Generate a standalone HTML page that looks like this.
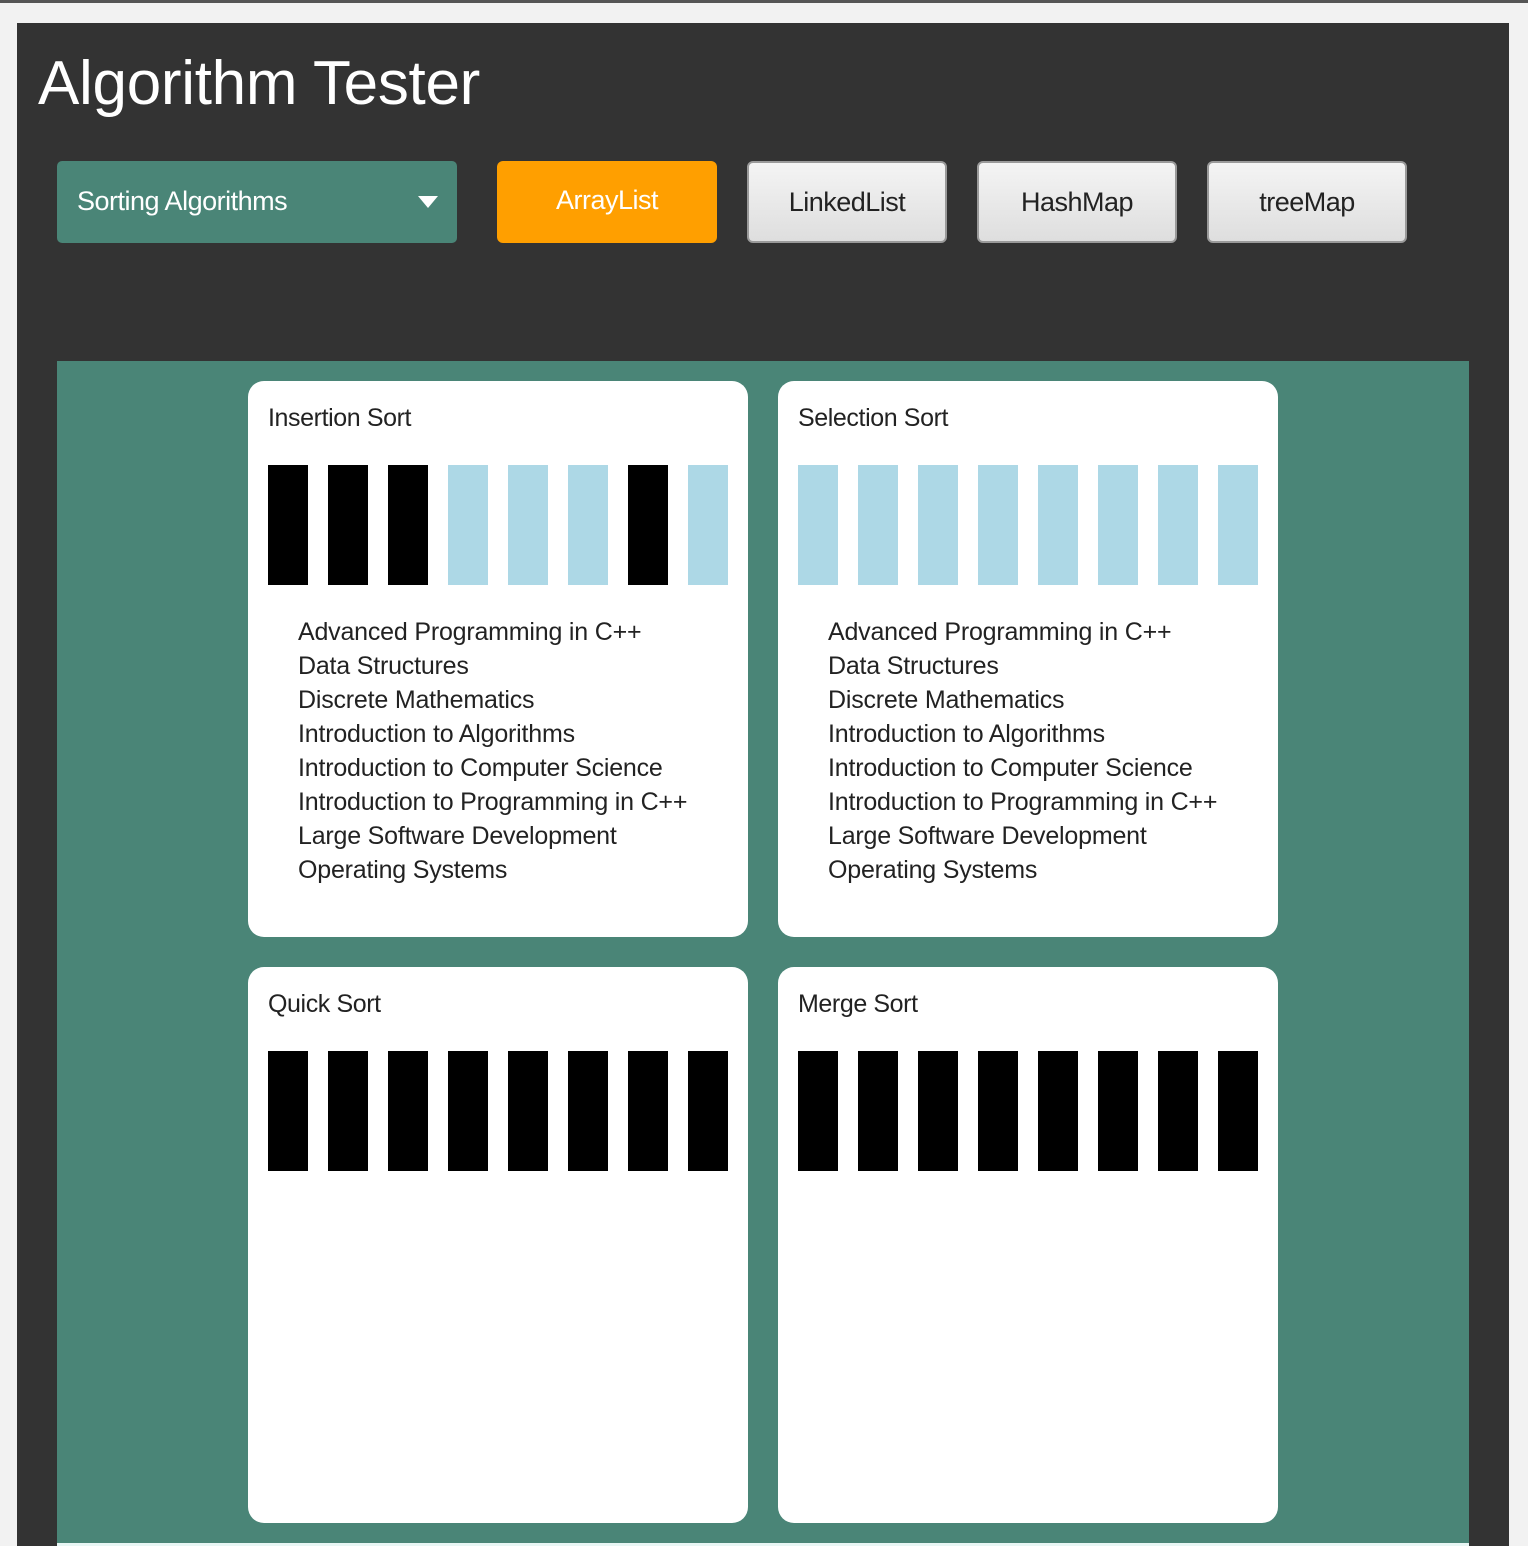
<!DOCTYPE html>
<html><head><meta charset="utf-8"><style>
*{margin:0;padding:0;box-sizing:border-box}
body{width:1528px;height:1546px;background:#f2f2f2;position:relative;overflow:hidden;font-family:"Liberation Sans",sans-serif}
.a{position:absolute}
.topline{left:0;top:0;width:1528px;height:3px;background:#555}
.dark{left:17px;top:23px;width:1492px;height:1523px;background:#333333}
.title{left:38px;top:48px;font-size:62px;color:#fff;letter-spacing:-0.3px;white-space:nowrap}
.dd{left:57px;top:161px;width:400px;height:82px;background:#4a8577;border-radius:5px;color:#fff;font-size:27px;letter-spacing:-0.5px;line-height:80px;padding-left:20px}
.tri{left:418px;top:196px;width:0;height:0;border-left:10px solid transparent;border-right:10px solid transparent;border-top:12px solid #fff}
.btn{top:161px;height:82px;border-radius:6px;font-size:27px;letter-spacing:-0.5px;text-align:center;line-height:78px;white-space:nowrap}
.g{background:linear-gradient(#f4f4f4,#dedede);border:2px solid #9a9a9a;color:#222}
.o{background:#ff9f00;color:#fff}
.green{left:57px;top:361px;width:1412px;height:1182px;background:#4a8577}
.bot{left:57px;top:1543px;width:1412px;height:3px;background:#e8f6f4}
.card{width:500px;height:556px;background:#fff;border-radius:16px}
.ct{position:absolute;left:20px;top:23px;font-size:25px;color:#222;letter-spacing:-0.4px}
.bar{position:absolute;top:84px;width:40px;height:120px}
.k{background:#000}.l{background:#add8e6}
.list{position:absolute;left:50px;top:234px;font-size:25px;line-height:34px;color:#222;letter-spacing:-0.2px;white-space:nowrap}
</style></head><body>
<div class="a topline"></div>
<div class="a dark"></div>
<div class="a title">Algorithm Tester</div>
<div class="a dd">Sorting Algorithms</div>
<div class="a tri"></div>
<div class="a btn o" style="left:497px;width:220px">ArrayList</div>
<div class="a btn g" style="left:747px;width:200px">LinkedList</div>
<div class="a btn g" style="left:977px;width:200px">HashMap</div>
<div class="a btn g" style="left:1207px;width:200px">treeMap</div>
<div class="a green"></div>
<div class="a bot"></div>

<div class="a card" style="left:248px;top:381px">
<div class="ct">Insertion Sort</div>
<div class="bar k" style="left:20px"></div><div class="bar k" style="left:80px"></div><div class="bar k" style="left:140px"></div><div class="bar l" style="left:200px"></div><div class="bar l" style="left:260px"></div><div class="bar l" style="left:320px"></div><div class="bar k" style="left:380px"></div><div class="bar l" style="left:440px"></div>
<div class="list">Advanced Programming in C++<br>Data Structures<br>Discrete Mathematics<br>Introduction to Algorithms<br>Introduction to Computer Science<br>Introduction to Programming in C++<br>Large Software Development<br>Operating Systems</div>
</div>

<div class="a card" style="left:778px;top:381px">
<div class="ct">Selection Sort</div>
<div class="bar l" style="left:20px"></div><div class="bar l" style="left:80px"></div><div class="bar l" style="left:140px"></div><div class="bar l" style="left:200px"></div><div class="bar l" style="left:260px"></div><div class="bar l" style="left:320px"></div><div class="bar l" style="left:380px"></div><div class="bar l" style="left:440px"></div>
<div class="list">Advanced Programming in C++<br>Data Structures<br>Discrete Mathematics<br>Introduction to Algorithms<br>Introduction to Computer Science<br>Introduction to Programming in C++<br>Large Software Development<br>Operating Systems</div>
</div>

<div class="a card" style="left:248px;top:967px">
<div class="ct">Quick Sort</div>
<div class="bar k" style="left:20px"></div><div class="bar k" style="left:80px"></div><div class="bar k" style="left:140px"></div><div class="bar k" style="left:200px"></div><div class="bar k" style="left:260px"></div><div class="bar k" style="left:320px"></div><div class="bar k" style="left:380px"></div><div class="bar k" style="left:440px"></div>
</div>

<div class="a card" style="left:778px;top:967px">
<div class="ct">Merge Sort</div>
<div class="bar k" style="left:20px"></div><div class="bar k" style="left:80px"></div><div class="bar k" style="left:140px"></div><div class="bar k" style="left:200px"></div><div class="bar k" style="left:260px"></div><div class="bar k" style="left:320px"></div><div class="bar k" style="left:380px"></div><div class="bar k" style="left:440px"></div>
</div>
</body></html>
